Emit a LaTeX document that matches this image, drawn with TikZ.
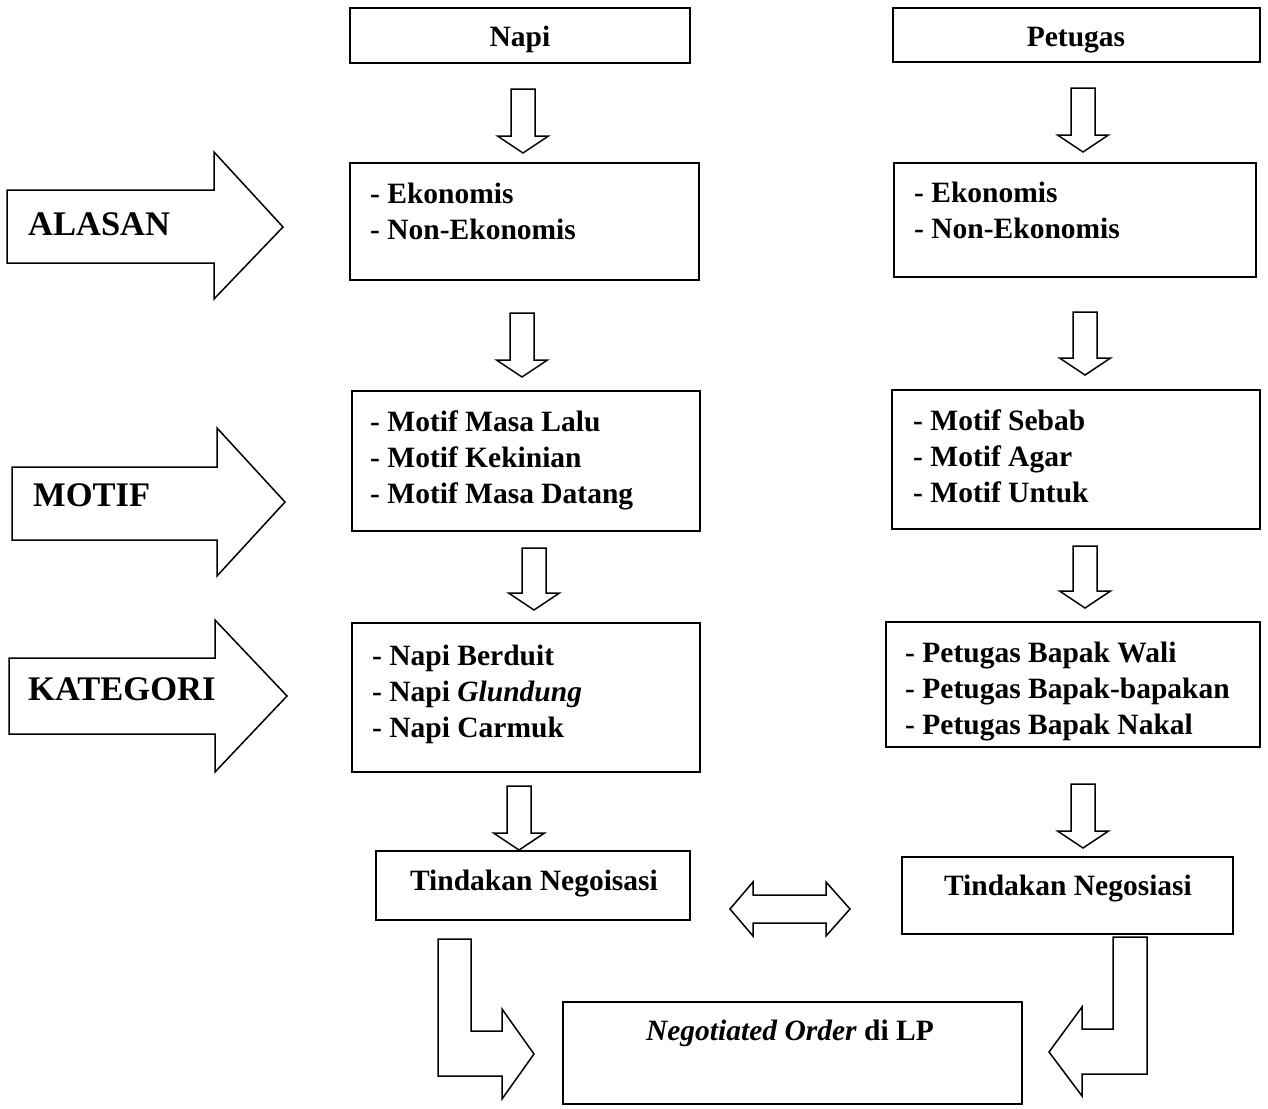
\documentclass[tikz,border=0pt]{standalone}
\usepackage{fontspec}
\setmainfont{Liberation Serif}
\newcommand\dnarrow[3]{%
  \draw[blk] (#1-12,#2) -- (#1+12,#2) -- (#1+12,#3-17) -- (#1+25.5,#3-17) -- (#1,#3)
    -- (#1-25.5,#3-17) -- (#1-12,#3-17) -- cycle;}
\begin{document}
\begin{tikzpicture}[x=1pt,y=-1pt,
  box/.style={draw, line width=1.5pt, rectangle, inner sep=0pt},
  txt/.style={anchor=north west, align=left, inner sep=0pt, font=\fontsize{29.5}{36}\selectfont\bfseries},
  ctxt/.style={anchor=base, inner sep=0pt, font=\fontsize{29.5}{36}\selectfont\bfseries},
  big/.style={anchor=base west, inner sep=0pt, font=\fontsize{34.5}{40}\selectfont\bfseries},
  blk/.style={draw, line width=1.5pt, line join=miter, fill=white}]
\useasboundingbox (0,0) rectangle (1268,1108);

% top boxes
\node[box, minimum width=340, minimum height=55] (napi) at (520,35.5) {};
\node[ctxt] (napit) at (520,47) {Napi};
\node[box, minimum width=367, minimum height=54] (pet) at (1076.5,35) {};
\node[ctxt] (pett) at (1076,47) {Petugas};

% left column
\node[box, minimum width=349, minimum height=117] (a1) at (524.5,221.5) {};
\node[txt] (a1t) at (370,183) {- Ekonomis\\- Non-Ekonomis};
\node[box, minimum width=348, minimum height=140] (a2) at (526,461) {};
\node[txt] (a2t) at (370,411) {- Motif Masa Lalu\\- Motif Kekinian\\- Motif Masa Datang};
\node[box, minimum width=348, minimum height=149] (a3) at (526,697.5) {};
\node[txt] (a3t) at (372,645) {- Napi Berduit\\- Napi \textit{Glundung}\\- Napi Carmuk};
\node[box, minimum width=314, minimum height=69] (a4) at (533,885.5) {};
\node[ctxt] (a4t) at (534,890) {Tindakan Negoisasi};

% right column
\node[box, minimum width=362, minimum height=114] (b1) at (1075,220) {};
\node[txt] (b1t) at (914,182) {- Ekonomis\\- Non-Ekonomis};
\node[box, minimum width=368, minimum height=139] (b2) at (1076,459.5) {};
\node[txt] (b2t) at (913,410) {- Motif Sebab\\- Motif Agar\\- Motif Untuk};
\node[box, minimum width=374, minimum height=125] (b3) at (1073,684.5) {};
\node[txt] (b3t) at (905,642) {- Petugas Bapak Wali\\- Petugas Bapak-bapakan\\- Petugas Bapak Nakal};
\node[box, minimum width=331, minimum height=77] (b4) at (1067.5,895.5) {};
\node[ctxt] (b4t) at (1068,895) {Tindakan Negosiasi};

% bottom box
\node[box, minimum width=459, minimum height=102] (neg) at (792.5,1053) {};
\node[ctxt] (negt) at (790,1040) {\textit{Negotiated Order} di LP};

% small down arrows
\dnarrow{523}{89}{153}
\dnarrow{522}{313}{377}
\dnarrow{534}{548}{610}
\dnarrow{519}{786}{850}
\dnarrow{1083}{88}{152}
\dnarrow{1085}{312}{375}
\dnarrow{1085}{546}{608}
\dnarrow{1083}{784}{848}

% big left arrows
\draw[blk] (7,190) -- (214,190) -- (214,152) -- (283,227) -- (214,299) -- (214,263) -- (7,263) -- cycle;
\node[big] (alasan) at (28,235) {ALASAN};
\draw[blk] (12,467) -- (217,467) -- (217,428) -- (285,502) -- (217,576) -- (217,540) -- (12,540) -- cycle;
\node[big] (motif) at (33,506) {MOTIF};
\draw[blk] (9,658) -- (215,658) -- (215,620) -- (287,696) -- (215,772) -- (215,734) -- (9,734) -- cycle;
\node[big] (kat) at (28,700) {KATEGORI};

% double arrow
\draw[blk] (730,909) -- (753,882) -- (753,895) -- (826,895) -- (826,882) -- (850,909)
  -- (826,936) -- (826,923) -- (753,923) -- (753,936) -- cycle;

% bent arrows
\draw[blk] (438,939) -- (471,939) -- (471,1031) -- (502,1031) -- (502,1009) -- (534,1054)
  -- (502,1099) -- (502,1076) -- (438,1076) -- cycle;
\draw[blk] (1147,937) -- (1113,937) -- (1113,1029) -- (1082,1029) -- (1082,1007) -- (1049,1052)
  -- (1082,1096) -- (1082,1074) -- (1147,1074) -- cycle;
\end{tikzpicture}
\end{document}
